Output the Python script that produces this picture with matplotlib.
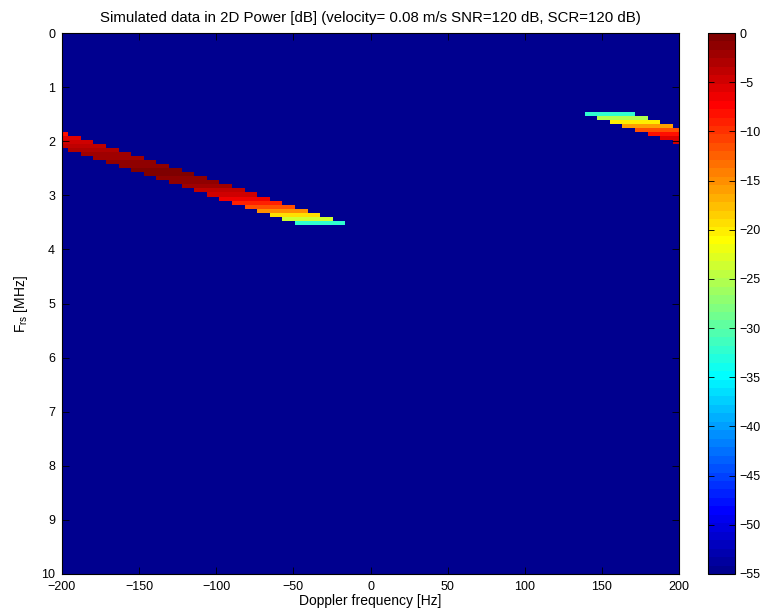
import numpy as np
import matplotlib
matplotlib.use('Agg')
import matplotlib.pyplot as plt
from matplotlib.colors import ListedColormap

plt.rcParams['font.family'] = ['Liberation Sans', 'DejaVu Sans']
plt.rcParams['mathtext.fontset'] = 'custom'
plt.rcParams['mathtext.rm'] = 'Liberation Sans'
plt.rcParams['mathtext.it'] = 'Liberation Sans'

# power along F_rs (row centres, MHz) -> dB
profile_frs = [1.493, 1.567, 1.642, 1.716, 1.791, 1.866, 1.940, 2.015, 2.090,
               2.164, 2.239, 2.313, 2.388, 2.463, 2.537, 2.612, 2.687, 2.761,
               2.836, 2.910, 2.985, 3.060, 3.134, 3.209, 3.284, 3.358, 3.433,
               3.507]
profile_db = [-32, -25, -20, -16, -12, -8, -6, -5, -4, -3,
              -2.5, -2, -1.5, -1, -0.5, -0.5, -1, -1.5, -2.5, -3.5,
              -5, -6.5, -9, -12, -15, -19, -24, -32]

# target track: Doppler column and top edge of the track in F_rs
left_hz = [-200.0, -191.8, -183.7, -175.5, -167.3, -159.2, -151.0, -142.9,
           -134.7, -126.5, -118.4, -110.2, -102.0, -93.9, -85.7, -77.6,
           -69.4, -61.2, -53.1, -44.9, -36.7, -28.6, -20.4]
left_top = [1.866, 1.940, 2.015, 2.090, 2.164, 2.239, 2.313, 2.388, 2.463,
            2.537, 2.612, 2.687, 2.761, 2.836, 2.910, 2.985, 3.060, 3.134,
            3.209, 3.284, 3.358, 3.433, 3.507]
right_hz = [142.9, 151.0, 159.2, 167.3, 175.5, 183.7, 191.8, 200.0]
right_top = [1.269, 1.343, 1.418, 1.493, 1.567, 1.642, 1.716, 1.791]
track_rows = 4
floor_db = -60


def matlab_jet(m=64):
    n = int(np.ceil(m / 4))
    u = np.concatenate([np.arange(1, n + 1) / n, np.ones(n - 1),
                        np.arange(n, 0, -1) / n])
    g = int(np.ceil(n / 2)) - (1 if m % 4 == 1 else 0) + np.arange(1, len(u) + 1)
    J = np.zeros((m, 3))
    for idx, ch in ((g + n, 0), (g, 1), (g - n, 2)):
        keep = (idx >= 1) & (idx <= m)
        J[idx[keep] - 1, ch] = u[keep]
    return ListedColormap(J)


doppler = np.linspace(-200, 200, 50)
frs = np.linspace(0, 10, 135)
dx = doppler[1] - doppler[0]
dy = frs[1] - frs[0]

row_db = np.full(frs.size, float(floor_db))
for f, p in zip(profile_frs, profile_db):
    row_db[np.argmin(np.abs(frs - f))] = p

power = np.full((frs.size, doppler.size), float(floor_db))
for hz_list, top_list in ((left_hz, left_top), (right_hz, right_top)):
    for hz, top in zip(hz_list, top_list):
        c = np.argmin(np.abs(doppler - hz))
        r0 = np.argmin(np.abs(frs - top))
        for r in range(r0, r0 + track_rows):
            power[r, c] = row_db[r]

fig = plt.figure(figsize=(7.67, 6.15), dpi=100)
ax = fig.add_axes([62 / 767, 41 / 615, 617 / 767, 541 / 615])
cax = fig.add_axes([708 / 767, 41 / 615, 27 / 767, 541 / 615])

im = ax.imshow(power, cmap=matlab_jet(64), vmin=-55, vmax=0, aspect='auto',
               interpolation='nearest',
               extent=[-200 - dx / 2, 200 + dx / 2, 10 + dy / 2, -dy / 2])
ax.set_xlim(-200, 200)
ax.set_ylim(10, 0)
ax.set_xticks(np.arange(-200, 201, 50))
ax.set_yticks(np.arange(0, 11, 1))
ax.tick_params(direction='in', top=True, right=True, length=5, width=0.6,
               labelsize=9)
ax.tick_params(axis='x', pad=5)
ax.tick_params(axis='y', pad=5)
for s in ax.spines.values():
    s.set_linewidth(0.8)

ax.set_title('Simulated data in 2D Power [dB] (velocity= 0.08 m/s SNR=120 dB, SCR=120 dB)',
             fontsize=10.8, pad=8)
ax.set_xlabel('Doppler frequency [Hz]', fontsize=10, labelpad=1)
ax.set_ylabel(r'F$_{\mathrm{rs}}$ [MHz]', fontsize=10, labelpad=8)

cb = fig.colorbar(im, cax=cax, ticks=np.arange(-55, 1, 5))
cax.tick_params(direction='in', left=True, right=True, length=4, width=0.6,
                labelsize=9, pad=3)
cb.outline.set_linewidth(0.8)

fig.savefig('out.png', dpi=100)
